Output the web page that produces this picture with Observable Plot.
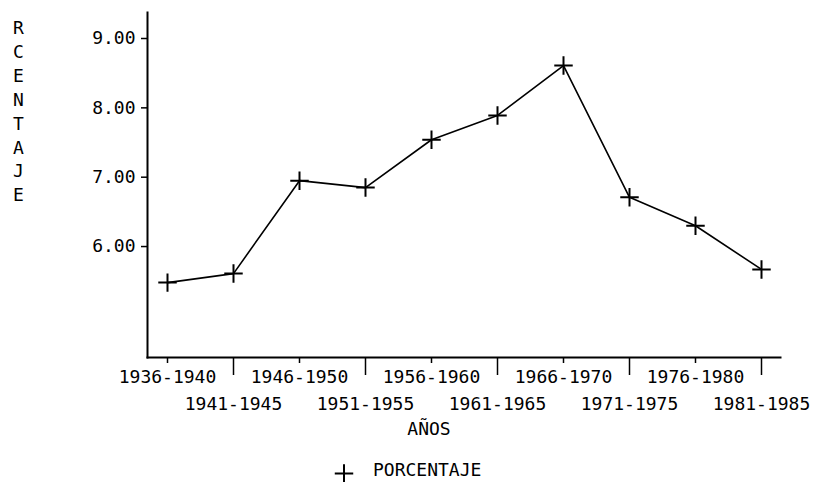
<!DOCTYPE html>
<html>
<head>
<meta charset="utf-8">
<script src="https://cdn.jsdelivr.net/npm/d3@7"></script>
<script src="https://cdn.jsdelivr.net/npm/@observablehq/plot@0.6"></script>
<style>
  html, body { margin: 0; padding: 0; background: #fff; }
</style>
</head>
<body>
<div id="chart"></div>
<script>
const periods = ["1936-1940", "1941-1945", "1946-1950", "1951-1955", "1956-1960",
                 "1961-1965", "1966-1970", "1971-1975", "1976-1980", "1981-1985"];
const porcentaje = [5.48, 5.61, 6.95, 6.85, 7.54, 7.89, 8.61, 6.71, 6.30, 5.67];
const yTicks = [6, 7, 8, 9];
const yLabel = "RCENTAJE";
const xLabel = "AÑOS";
const seriesName = "PORCENTAJE";

const data = periods.map((p, i) => ({periodo: p, valor: porcentaje[i]}));
const rowOne = periods.filter((d, i) => i % 2 === 0);
const rowTwo = periods.filter((d, i) => i % 2 === 1);

const chart = Plot.plot({
  width: 815,
  height: 482,
  marginLeft: 147,
  marginRight: 35,
  marginTop: 12,
  marginBottom: 125,
  style: {fontFamily: "'DejaVu Sans Mono', monospace", fontSize: "18px", color: "#000", background: "#fff"},
  x: {type: "point", domain: periods, padding: 0.225},
  y: {domain: [4.4, 9.375]},
  marks: [
    Plot.frame({anchor: "left", stroke: "#000", strokeWidth: 2}),
    Plot.frame({anchor: "bottom", stroke: "#000", strokeWidth: 2}),
    Plot.axisY(yTicks, {tickFormat: d => d.toFixed(2), tickSize: 6, tickPadding: 6, label: null, stroke: "#000", strokeWidth: 1.5}),
    Plot.axisX(rowOne, {tickSize: 6, tickPadding: 7, label: null, stroke: "#000", strokeWidth: 1.5}),
    Plot.axisX(rowTwo, {tickSize: 18, tickPadding: 22, label: null, stroke: "#000", strokeWidth: 1.5}),
    Plot.line(data, {x: "periodo", y: "valor", stroke: "#000", strokeWidth: 1.6}),
    Plot.dot(data, {x: "periodo", y: "valor", symbol: "plus", r: 6, stroke: "#000", strokeWidth: 2}),
    Plot.text([yLabel.split("").join("\n")], {frameAnchor: "top-left", textAnchor: "middle", lineAnchor: "top", lineHeight: 1.333, dx: -129, dy: 4, fill: "#000"}),
    Plot.text([xLabel], {frameAnchor: "bottom", textAnchor: "middle", lineAnchor: "middle", dx: -35, dy: 72, fill: "#000"}),
    Plot.dot([seriesName], {frameAnchor: "bottom", symbol: "plus", r: 6, stroke: "#000", strokeWidth: 2, dx: -120, dy: 116}),
    Plot.text([seriesName], {frameAnchor: "bottom", textAnchor: "start", lineAnchor: "middle", dx: -91, dy: 113, fill: "#000"})
  ]
});
document.getElementById("chart").appendChild(chart);
</script>
</body>
</html>
